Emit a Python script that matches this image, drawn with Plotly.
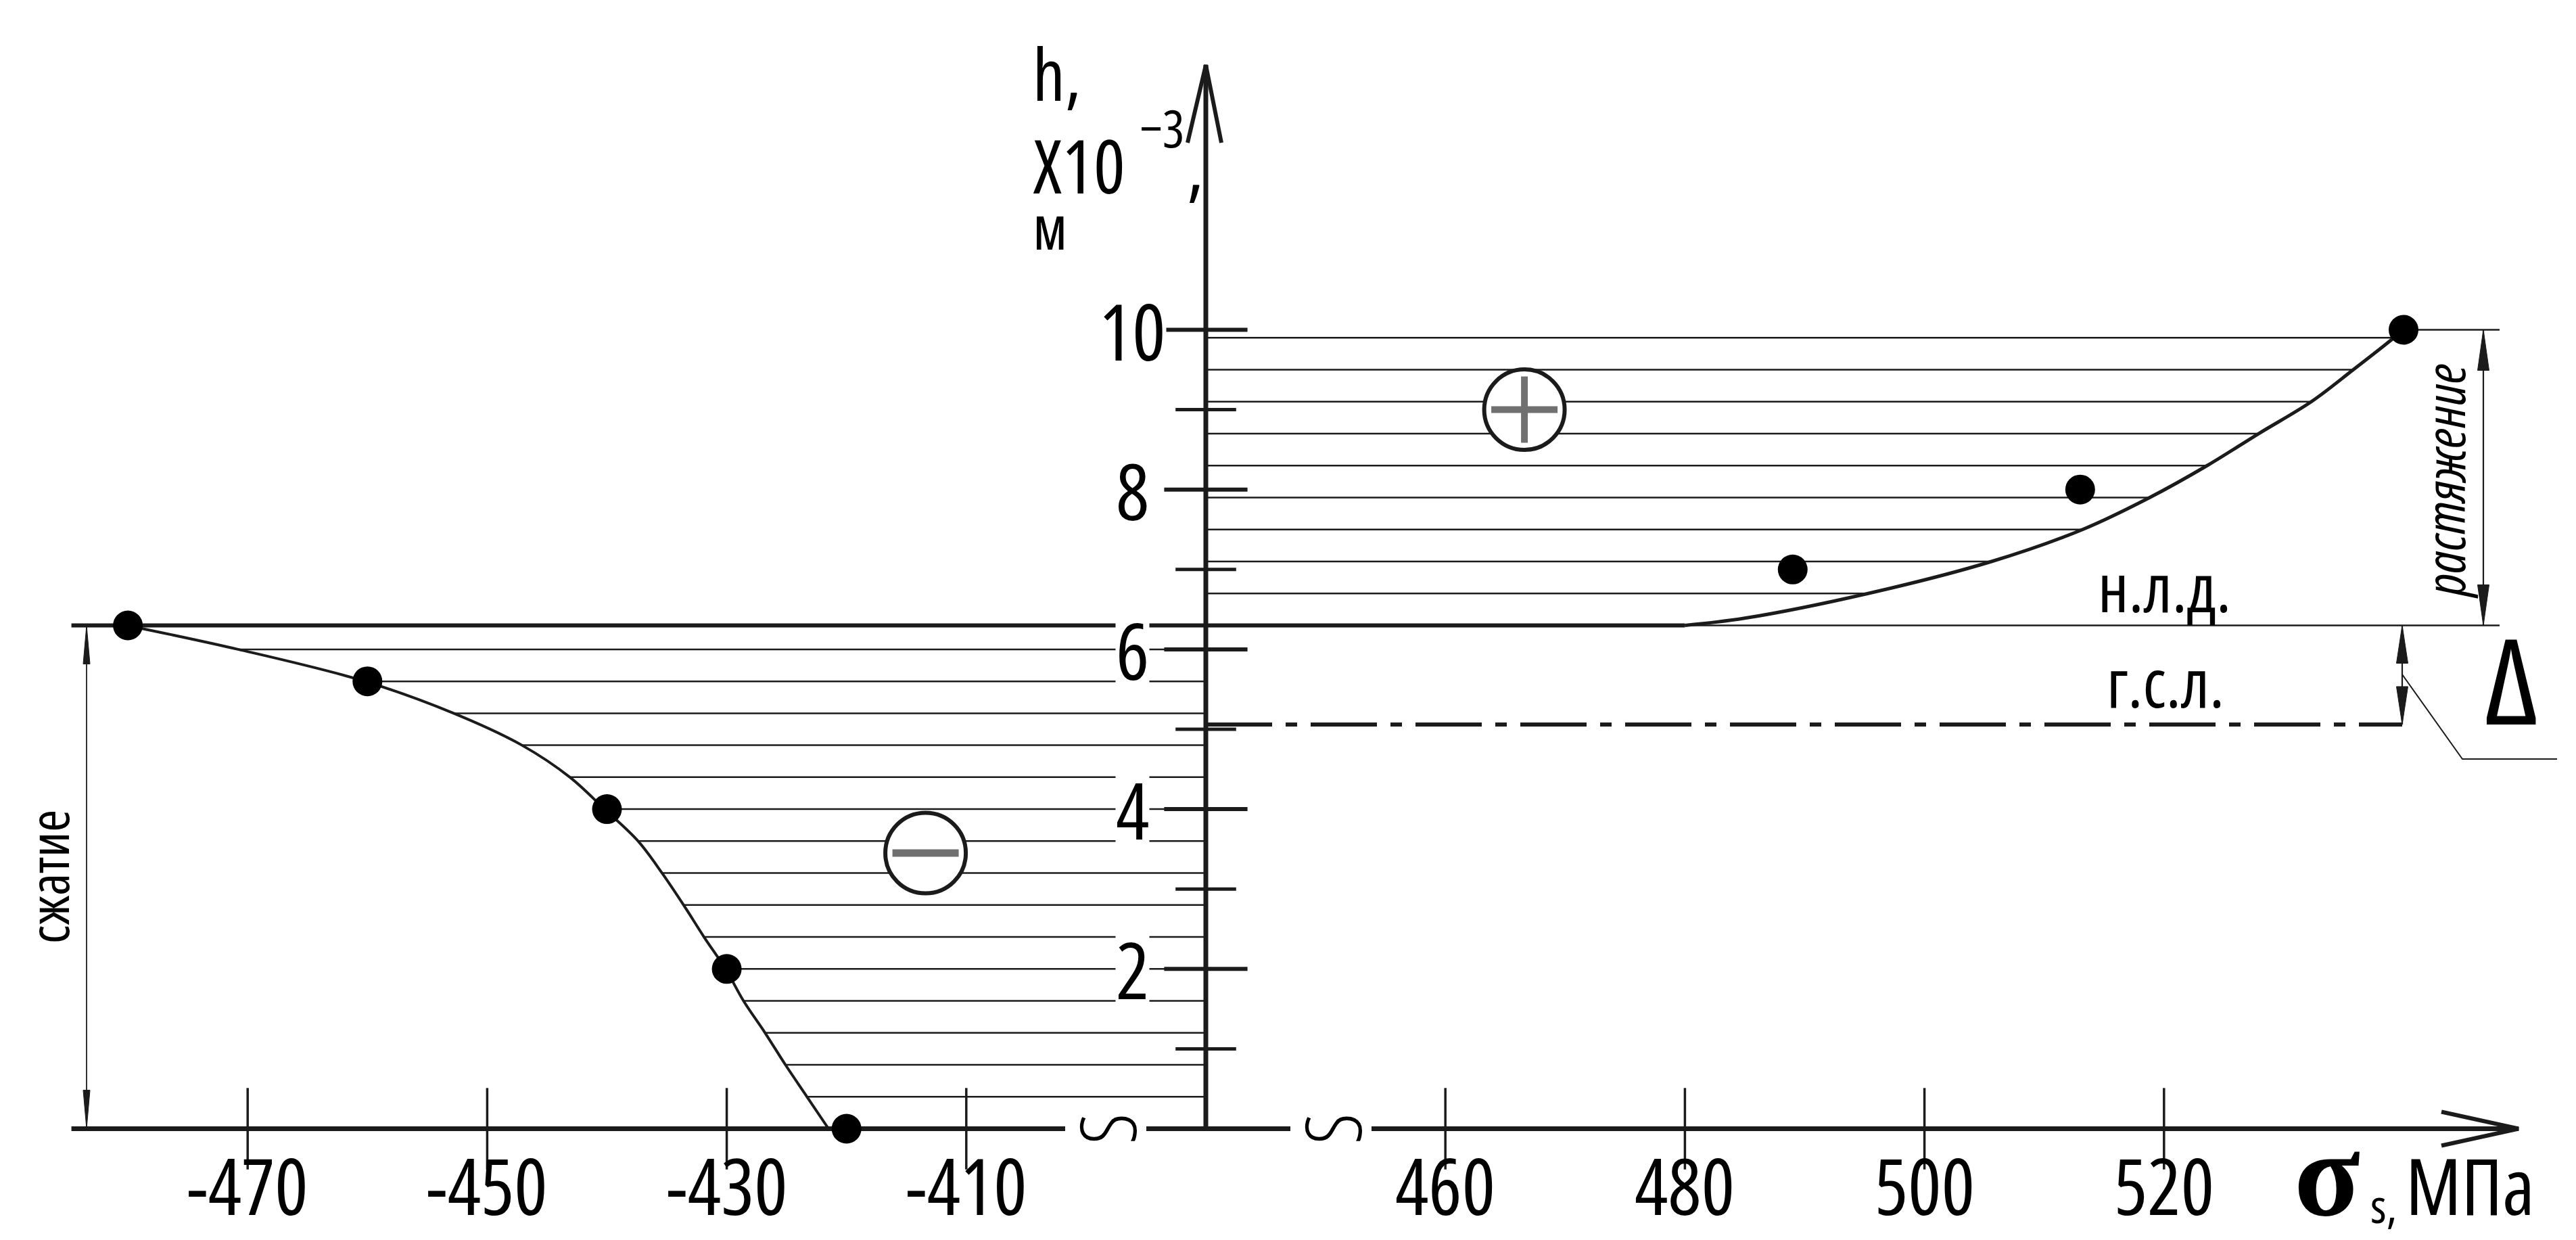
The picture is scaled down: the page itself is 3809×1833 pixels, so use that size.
import plotly.graph_objects as go

# compression side (left part of the broken sigma axis), MPa / h x10^-3 m
comp_sigma = [-480, -460, -440, -430, -420]
comp_h = [6.3, 5.6, 4.0, 2.0, 0.0]
comp_curve_sigma = [-480.1, -470.8, -460.2, -452.8, -447.1, -443.1, -440.2, -437.4, -435.4,
                    -433.6, -431.9, -430.1, -428.6, -426.8, -425.1, -423.3, -421.5]
comp_curve_h = [6.3, 6.0, 5.6, 5.2, 4.8, 4.4, 4.0, 3.6, 3.2, 2.8, 2.4, 2.0, 1.6, 1.2, 0.8, 0.4, 0.0]

# tension side (right part)
tens_sigma = [489, 513, 540]
tens_h = [7.0, 8.0, 10.0]
tens_curve_sigma = [480.0, 485.0, 495.3, 505.6, 513.2, 518.8, 523.6, 527.9, 532.3, 535.8, 539.2, 540.0]
tens_curve_h = [6.3, 6.39, 6.7, 7.1, 7.5, 7.9, 8.3, 8.7, 9.1, 9.5, 9.9, 10.0]

nld_h = 6.3    # н.л.д.
gsl_h = 5.06   # г.с.л.

left_ticks = [-470, -450, -430, -410]
right_ticks = [460, 480, 500, 520]
y_major = [2, 4, 6, 8, 10]
y_minor = [1, 3, 5, 7, 9]

# drawing scale (px per unit) and anchor pixels
SX, SY = 17.71, 118.1
W, H = 3809, 1833
AX_PX, ZERO_PX = 1775, 1660.5
L_AXIS, R_AXIS = -390, 440
INK = "#1b1b1b"
GOST = "Open Sans, Liberation Sans, sans-serif"


def xl(p):
    return L_AXIS + (p - AX_PX) / SX


def xr(p):
    return R_AXIS + (p - AX_PX) / SX


def yv(p):
    return (ZERO_PX - p) / SY


def narrow(t, size=None):
    css = "font-stretch:condensed"
    if size:
        css += ";font-size:%dpx" % size
    return '<span style="' + css + '">' + t + '</span>'


fig = go.Figure()


def line(xs, ys, axis="x", width=2.5, color=INK, dash=None, shape="linear"):
    fig.add_scatter(x=xs, y=ys, xaxis=axis, mode="lines", hoverinfo="skip",
                    line=dict(width=width, color=color, dash=dash, shape=shape))


def arrowhead(x, y, axis, up, length=60, width=17):
    yb = y - length / SY if up else y + length / SY
    hw = width / 2 / SX
    fig.add_scatter(x=[x, x - hw, x + hw, x], y=[y, yb, yb, y], xaxis=axis, mode="lines",
                    fill="toself", fillcolor=INK, line=dict(width=1, color=INK), hoverinfo="skip")


def label(text, x, y, axis="x", size=116, family=GOST, weight="normal", **kw):
    if family == GOST and "<span" not in text:
        text = narrow(text)
    fig.add_annotation(text=text, x=x, y=y, xref=axis, yref="y", showarrow=False,
                       font=dict(family=family, size=size, color="black", weight=weight), **kw)


# hatching
hx, hy = [], []
for s, h in zip(comp_curve_sigma[1:-1], comp_curve_h[1:-1]):
    hx += [s, L_AXIS, None]
    hy += [h, h, None]
line(hx, hy, "x", 2.5)
hx, hy = [], []
for s, h in zip(tens_curve_sigma[2:-1], tens_curve_h[2:-1]):
    hx += [R_AXIS, s, None]
    hy += [h, h, None]
line(hx, hy, "x2", 2.5)

# neutral line and g.s.l.
line([xl(97.6), L_AXIS], [nld_h, nld_h], "x", 6)
line([R_AXIS, tens_curve_sigma[0]], [nld_h, nld_h], "x2", 6)
line([tens_curve_sigma[0], xr(3688)], [nld_h, nld_h], "x2", 2.5)
line([tens_sigma[-1], xr(3688)], [tens_h[-1], tens_h[-1]], "x2", 2.5)
line([R_AXIS, xr(3544)], [gsl_h, gsl_h], "x2", 6, dash="98px,20px,17px,20px")

# curves
line(comp_curve_sigma, comp_curve_h, "x", 4, shape="spline")
line(tens_curve_sigma, tens_curve_h, "x2", 5, shape="spline")

# axes
line([xl(97.6), xl(1567)], [0, 0], "x", 7)
line([xr(1687), xr(1900)], [0, 0], "x2", 7)
line([xr(2020), xr(3716)], [0, 0], "x2", 7)
line([xr(3602), xr(3716), xr(3602)], [yv(ZERO_PX - 25), 0, yv(ZERO_PX + 25)], "x2", 6)
line([R_AXIS, R_AXIS], [0, yv(88)], "x2", 7)
line([xr(1748), R_AXIS, xr(1798)], [yv(203), yv(88), yv(203)], "x2", 6)

# tick marks
fig.add_scatter(x=left_ticks, y=[0] * len(left_ticks), xaxis="x", mode="markers", cliponaxis=False,
                marker=dict(symbol="line-ns", size=86, line=dict(width=3.5, color=INK)), hoverinfo="skip")
fig.add_scatter(x=right_ticks, y=[0] * len(right_ticks), xaxis="x2", mode="markers", cliponaxis=False,
                marker=dict(symbol="line-ns", size=86, line=dict(width=3.5, color=INK)), hoverinfo="skip")
fig.add_scatter(x=[R_AXIS] * len(y_major), y=y_major, xaxis="x2", mode="markers", cliponaxis=False,
                marker=dict(symbol="line-ew", size=88, line=dict(width=6, color=INK)), hoverinfo="skip")
fig.add_scatter(x=[R_AXIS] * len(y_minor), y=y_minor, xaxis="x2", mode="markers", cliponaxis=False,
                marker=dict(symbol="line-ew", size=64, line=dict(width=5, color=INK)), hoverinfo="skip")

# sign circles
fig.add_scatter(x=[466.6], y=[9.0], xaxis="x2", mode="markers", cliponaxis=False, hoverinfo="skip",
                marker=dict(symbol="circle", size=119, color="white", line=dict(width=6, color=INK)))
fig.add_scatter(x=[466.6], y=[9.0], xaxis="x2", mode="markers", cliponaxis=False, hoverinfo="skip",
                marker=dict(symbol="cross-thin", size=70, line=dict(width=10, color="#707070")))
fig.add_scatter(x=[-413.4], y=[3.45], xaxis="x", mode="markers", cliponaxis=False, hoverinfo="skip",
                marker=dict(symbol="circle", size=119, color="white", line=dict(width=6, color=INK)))
fig.add_scatter(x=[-413.4], y=[3.45], xaxis="x", mode="markers", cliponaxis=False, hoverinfo="skip",
                marker=dict(symbol="line-ew", size=70, line=dict(width=11, color="#707070")))

# measured points
fig.add_scatter(x=comp_sigma, y=comp_h, xaxis="x", mode="markers", cliponaxis=False,
                marker=dict(size=44, color="black"), hoverinfo="skip")
fig.add_scatter(x=tens_sigma, y=tens_h, xaxis="x2", mode="markers", cliponaxis=False,
                marker=dict(size=44, color="black"), hoverinfo="skip")

# dimension lines
xd = xl(120)
line([xd, xd], [0, nld_h], "x", 1.8)
arrowhead(xd, nld_h, "x", True, 57, 10)
arrowhead(xd, 0, "x", False, 57, 10)
xd = xr(3664)
line([xd, xd], [nld_h, tens_h[-1]], "x2", 2.2)
arrowhead(xd, tens_h[-1], "x2", True)
arrowhead(xd, nld_h, "x2", False)
xd = xr(3544)
line([xd, xd], [gsl_h, nld_h], "x2", 2.2)
arrowhead(xd, nld_h, "x2", True, 56)
arrowhead(xd, gsl_h, "x2", False, 56)
line([xd, xr(3633), xr(3773)], [yv(989), yv(1114), yv(1114)], "x2", 2)

# tick labels
for t in left_ticks:
    label(str(t), t, -0.70, "x")
for t in right_ticks:
    label(str(t), t, -0.70, "x2")
for t in y_major:
    label(str(t), xl(1666), t, "x", bgcolor="white", borderpad=0)

# axis break marks
label("S", xl(1627), 0, "x", size=115, weight=300, textangle=-90)
label("S", xr(1960), 0, "x2", size=115, weight=300, textangle=-90)

# y axis title: h, / X10^-3, / м stacked in one block (27.5 px line step)
gap = "&nbsp;"
ytitle = "<br>".join([narrow("h,", 106), gap, gap, gap, gap, narrow("X10", 110), gap, gap, narrow("м", 92)])
label(ytitle, xl(1517), yv(26), "x", size=21.15, xanchor="left", yanchor="top", align="left")
label("−3", xl(1676), yv(180), "x", size=77, xanchor="left")
label(",", xl(1745), yv(235), "x", size=110, xanchor="left")

# x axis title
label("<b>σ</b>", xr(3433), yv(1727), "x2", size=180, family="Liberation Serif, DejaVu Serif, serif")
label("s,", xr(3495), yv(1773), "x2", size=70, xanchor="left")
label("МПа", xr(3547), yv(1743), "x2", xanchor="left")

# zone labels
label("н.л.д.", xr(3192), yv(858), "x2", size=100)
label("г.с.л.", xr(3194), yv(999), "x2", size=100)
label("сжатие", xl(62), yv(1288), "x", size=80, textangle=-90)
label("<i>растяжение</i>", xr(3605), yv(703), "x2", size=80, textangle=-90)
label("Δ", xr(3705), yv(995), "x2", size=175)

axis_off = dict(visible=False, showgrid=False, zeroline=False)
fig.update_layout(
    width=W, height=H, margin=dict(l=0, r=0, t=0, b=0),
    paper_bgcolor="white", plot_bgcolor="rgba(0,0,0,0)", showlegend=False,
    xaxis=dict(domain=[0, AX_PX / W], range=[xl(0), xl(AX_PX)], anchor="y", **axis_off),
    xaxis2=dict(domain=[1600 / W, 1], range=[xr(1600), xr(W)], anchor="y", **axis_off),
    yaxis=dict(domain=[0, 1], range=[yv(H), yv(0)], **axis_off),
)

fig.write_html("out.html")
